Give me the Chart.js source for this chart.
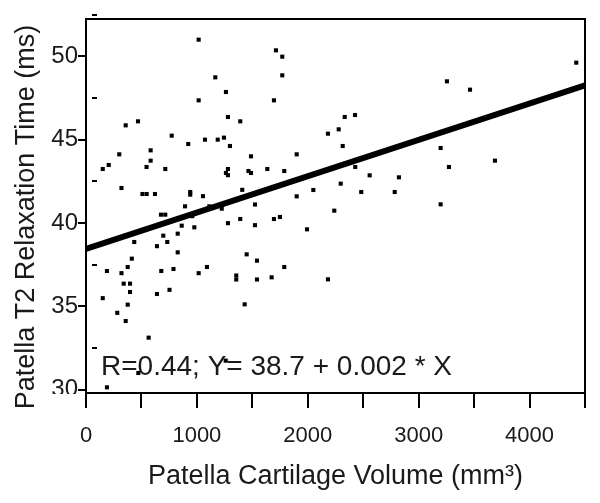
<!DOCTYPE html>
<html>
<head>
<meta charset="utf-8">
<script src="https://cdn.jsdelivr.net/npm/chart.js@4/dist/chart.umd.min.js"></script>
<style>
  html, body { margin: 0; padding: 0; background: #fff; }
  #wrap { width: 600px; height: 503px; }
</style>
</head>
<body>
<div id="wrap"><canvas id="c" width="600" height="503"></canvas></div>
<script>
// ---- data ----
const volume = [1016,1016,358,469,773,922,583,300,205,151,583,546,715,320,509,547,622,940,940,893,
  676,715,863,977,435,697,733,827,640,827,413,376,189,320,679,789,1016,340,397,397,
  753,151,640,376,282,358,565,472,189,1260,1713,1770,1770,1166,1262,1695,1280,1391,2333,2426,
  2182,2279,1073,1188,1244,1298,2315,1488,1900,2428,2558,1280,1262,1280,1465,1488,1635,1788,2297,1055,
  1409,1900,2050,2482,1112,1224,1524,958,1280,1391,1524,1695,1749,2239,1993,1449,1542,1788,1091,1355,
  1355,1542,1674,2182,1431,4421,3255,3463,3198,3273,3688,2822,2784,3198];
const t2time = [51.0,47.36,45.86,46.10,45.24,44.74,44.36,44.12,43.48,43.24,43.74,43.36,43.24,42.10,41.74,41.74,41.74,41.86,41.70,41.0,
  40.5,40.5,39.84,39.74,38.86,39.24,38.86,39.36,38.61,38.24,37.86,37.36,37.12,36.99,37.12,37.24,36.99,36.36,36.36,35.86,
  35.99,35.49,35.74,35.1,34.61,34.12,33.12,31.0,30.14,31.74,50.36,49.98,48.86,48.74,47.86,47.36,46.36,46.10,46.36,46.48,
  45.36,45.62,45.0,45.0,45.12,44.62,44.62,44.0,44.12,43.36,42.86,43.24,43.0,42.87,43.12,43.0,43.24,43.12,42.36,41.61,
  41.99,41.6,41.98,41.86,41.0,40.86,41.11,40.41,39.99,40.24,39.87,40.24,40.36,40.74,39.62,38.12,37.74,37.36,37.36,36.85,
  36.61,36.61,36.74,36.62,35.12,49.62,48.5,48.0,44.5,43.36,43.74,42.74,41.86,41.12];
const fitIntercept = 38.45;
const fitSlope = 0.00218;
const xTickValues = [0,500,1000,1500,2000,2500,3000,3500,4000,4500];
const xTickLabels = {0:'0',1000:'1000',2000:'2000',3000:'3000',4000:'4000'};
const yTickValues = [30,35,40,45,50];
const yMinorTicks = [32.5,37.5,42.5,47.5,52.5];
const xRange = [0,4500];
const yRange = [29.8,52.24];
const xTitle = 'Patella Cartilage Volume (mm\u00B3)';
const yTitle = 'Patella T2 Relaxation Time (ms)';
const annotation = 'R=0.44; Y= 38.7 + 0.002 * X';

const FONT = '"Liberation Sans", Arial, Helvetica, sans-serif';
const TXT = '#1a1a1a';

const points = volume.map((v, i) => ({ x: v, y: t2time[i] }));
const fitLine = xRange.map(x => ({ x: x, y: fitIntercept + fitSlope * x }));

const decor = {
  id: 'decor',
  afterDraw(chart) {
    const ctx = chart.ctx, a = chart.chartArea, ys = chart.scales.y;
    ctx.save();
    ctx.strokeStyle = '#000';
    ctx.lineWidth = 2;
    ctx.strokeRect(a.left, a.top, a.right - a.left, a.bottom - a.top);
    // inner minor ticks on y axis
    ctx.beginPath();
    yMinorTicks.forEach(v => {
      const py = Math.round(ys.getPixelForValue(v));
      ctx.moveTo(a.left + 6, py);
      ctx.lineTo(a.left + 11, py);
    });
    ctx.stroke();
    // hide lower part of the "30" label, as in the source figure
    ctx.fillStyle = '#fff';
    ctx.fillRect(40, a.bottom + 1, a.left - 41, 14);
    // y title
    ctx.fillStyle = TXT;
    ctx.font = '27px ' + FONT;
    ctx.textAlign = 'center';
    ctx.textBaseline = 'middle';
    ctx.translate(27, 217);
    ctx.rotate(-Math.PI / 2);
    ctx.fillText(yTitle, 0, 0);
    ctx.restore();
    // regression annotation
    ctx.save();
    ctx.fillStyle = TXT;
    ctx.font = '28px ' + FONT;
    ctx.textAlign = 'left';
    ctx.textBaseline = 'alphabetic';
    ctx.fillText(annotation, a.left + 15, a.bottom - 18);
    ctx.restore();
  }
};

new Chart(document.getElementById('c'), {
  type: 'scatter',
  data: {
    datasets: [
      {
        type: 'scatter',
        data: points,
        pointStyle: 'rect',
        pointRadius: 2.9,
        pointBorderWidth: 0,
        backgroundColor: '#000',
        borderColor: '#000',
        order: 2
      },
      {
        type: 'line',
        data: fitLine,
        borderColor: '#000',
        borderWidth: 6,
        pointRadius: 0,
        fill: false,
        order: 1
      }
    ]
  },
  options: {
    responsive: false,
    animation: false,
    devicePixelRatio: 1,
    layout: { padding: { top: 19, right: 14, left: 0, bottom: 0 } },
    plugins: { legend: { display: false }, tooltip: { enabled: false } },
    scales: {
      x: {
        type: 'linear',
        position: 'bottom',
        min: xRange[0], max: xRange[1],
        afterBuildTicks: s => { s.ticks = xTickValues.map(v => ({ value: v })); },
        afterFit: s => { s.height = 110; },
        ticks: {
          autoSkip: false, maxRotation: 0,
          padding: 15,
          color: TXT,
          font: { family: FONT, size: 22 },
          callback: v => (xTickLabels[v] !== undefined ? xTickLabels[v] : '')
        },
        grid: { drawOnChartArea: false, drawTicks: true, tickLength: 15, color: '#000', lineWidth: 2 },
        border: { display: false },
        title: {
          display: true, text: xTitle, color: TXT,
          font: { family: FONT, size: 27 },
          padding: { top: 0, bottom: 10 }
        }
      },
      y: {
        type: 'linear',
        position: 'left',
        min: yRange[0], max: yRange[1],
        afterBuildTicks: s => { s.ticks = yTickValues.map(v => ({ value: v })); },
        afterFit: s => { s.width = 86; },
        ticks: {
          padding: 0,
          color: TXT,
          font: { family: FONT, size: 24 },
          callback: v => String(v)
        },
        grid: { drawOnChartArea: false, drawTicks: true, tickLength: 8, color: '#000', lineWidth: 2 },
        border: { display: false },
        title: { display: false }
      }
    }
  },
  plugins: [decor]
});
</script>
</body>
</html>
